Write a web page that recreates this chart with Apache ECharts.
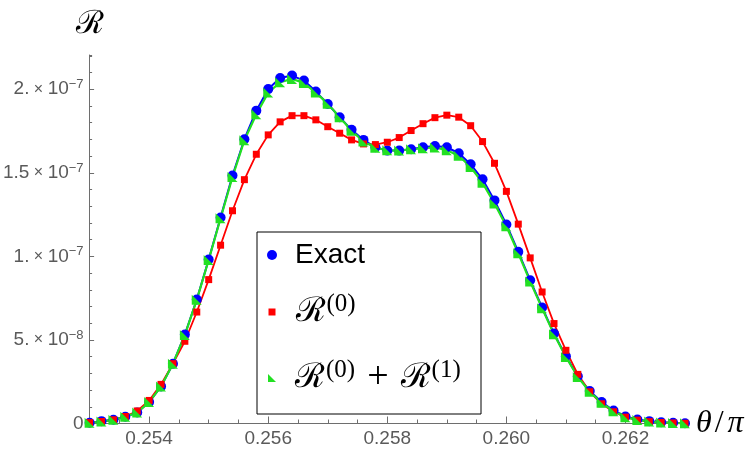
<!DOCTYPE html>
<html><head><meta charset="utf-8">
<script src="https://cdn.jsdelivr.net/npm/echarts@6/dist/echarts.min.js"></script>
<style>html,body{margin:0;padding:0;background:#fff}#c{width:756px;height:451px}</style>
</head><body><div id="c"></div>
<script>
// theta/pi sample positions
const thetaOverPi = [0.2530,0.2532,0.2534,0.2536,0.2538,0.2540,0.2542,0.2544,0.2546,0.2548,
  0.2550,0.2552,0.2554,0.2556,0.2558,0.2560,0.2562,0.2564,0.2566,0.2568,
  0.2570,0.2572,0.2574,0.2576,0.2578,0.2580,0.2582,0.2584,0.2586,0.2588,
  0.2590,0.2592,0.2594,0.2596,0.2598,0.2600,0.2602,0.2604,0.2606,0.2608,
  0.2610,0.2612,0.2614,0.2616,0.2618,0.2620,0.2622,0.2624,0.2626,0.2628,0.2630];
// values in units of 1e-8
const exactE8 = [0.05,0.14,0.22,0.40,0.66,1.28,2.22,3.58,5.32,7.42,
  9.81,12.33,14.84,17.01,18.72,20.01,20.67,20.82,20.52,19.86,
  19.12,18.33,17.57,16.97,16.53,16.33,16.33,16.41,16.53,16.61,
  16.53,16.17,15.51,14.61,13.35,11.91,10.27,8.57,6.94,5.38,
  4.02,2.82,1.94,1.28,0.78,0.42,0.24,0.14,0.08,0.04,0.02];
const r0E8 = [0.05,0.12,0.22,0.42,0.75,1.38,2.34,3.58,4.92,6.67,
  8.61,10.67,12.73,14.59,16.11,17.27,18.05,18.42,18.42,18.17,
  17.76,17.37,16.97,16.73,16.69,16.83,17.11,17.53,17.94,18.30,
  18.45,18.33,17.82,16.87,15.57,13.89,11.93,9.91,7.87,5.98,
  4.38,2.94,1.90,1.18,0.70,0.38,0.20,0.11,0.06,0.03,0.01];
const r01E8 = [0.04,0.12,0.22,0.40,0.66,1.28,2.22,3.58,5.30,7.40,
  9.78,12.28,14.75,16.95,18.50,19.80,20.42,20.62,20.37,19.80,
  19.14,18.33,17.52,16.88,16.50,16.35,16.33,16.41,16.47,16.52,
  16.35,16.02,15.35,14.40,13.17,11.80,10.19,8.49,6.89,5.34,
  3.98,2.78,1.90,1.24,0.74,0.38,0.21,0.12,0.06,0.03,0.01];
const xTickValues = [0.254,0.256,0.258,0.260,0.262];
const xTickLabels = ['0.254','0.256','0.258','0.260','0.262'];
const yTickValues = [0,5,10,15,20];
const yTickMantissa = ['0','5.','1.','1.5','2.'];
const yTickExponent = ['','\u22128','\u22127','\u22127','\u22127'];

const chart = echarts.init(document.getElementById('c'), null, {renderer:'canvas'});
const axisColor = '#6e6e6e';
const labelColor = '#5a5a5a';
const pair = arr => arr.map((v,i)=>[thetaOverPi[i], v]);
const triPath = 'path://M0,0L0,10L10,10Z';

const rr = {fontSize:34,fontFamily:'DejaVu Serif',color:'#000',lineHeight:40};
const ss = {fontSize:25,fontFamily:'Liberation Serif',color:'#000',verticalAlign:'top',lineHeight:26};

const option = {
  animation:false,
  backgroundColor:'#fff',
  grid:{left:88,right:71,top:55,bottom:27.5,containLabel:false},
  graphic:[{type:'rect',shape:{x:257,y:232,width:224,height:182},style:{fill:'#fff',stroke:'#000',lineWidth:1},z:3}],
  xAxis:[
    {type:'value',min:0.253,max:0.263,interval:0.0005,position:'bottom',
     axisLine:{lineStyle:{color:axisColor,width:1}},
     axisTick:{inside:true,length:4,lineStyle:{color:axisColor}},
     axisLabel:{show:false},splitLine:{show:false}},
    {type:'value',min:0.253,max:0.263,position:'bottom',
     axisLine:{show:false},
     axisTick:{inside:true,length:7,customValues:xTickValues,lineStyle:{color:axisColor}},
     axisLabel:{customValues:xTickValues,margin:6,color:labelColor,fontSize:19,fontFamily:'Liberation Sans',
       formatter:v=>{const k=xTickValues.findIndex(t=>Math.abs(t-v)<1e-9);return k>=0?xTickLabels[k]:'';}},
     splitLine:{show:false},
     name:'{i|\u03b8}{n|/}{i|\u03c0}',nameLocation:'end',nameGap:11,
     nameTextStyle:{rich:{i:{fontSize:32,fontFamily:'Liberation Serif',fontStyle:'italic',color:'#000'},
                          n:{fontSize:32,fontFamily:'Liberation Serif',color:'#000',padding:[0,4,0,3]}}}}
  ],
  yAxis:[
    {type:'value',min:0,max:22.05,interval:1,position:'left',
     axisLine:{lineStyle:{color:axisColor,width:1}},
     axisTick:{inside:true,length:2.5,lineStyle:{color:axisColor}},
     axisLabel:{show:false},splitLine:{show:false}},
    {type:'value',min:0,max:22.05,position:'left',
     axisLine:{show:false},
     axisTick:{inside:true,length:4.5,customValues:yTickValues,lineStyle:{color:axisColor}},
     axisLabel:{customValues:yTickValues,margin:6,color:labelColor,
       formatter:v=>{const k=yTickValues.findIndex(t=>Math.abs(t-v)<1e-9);if(k<0)return '';
         if(!yTickExponent[k])return '{m|'+yTickMantissa[k]+'}';
         return '{m|'+yTickMantissa[k]+'}{x| \u00d7 }{m|10}{s|'+yTickExponent[k]+'}';},
       rich:{m:{fontSize:19,fontFamily:'Liberation Sans',color:labelColor,lineHeight:22},
             x:{fontSize:16,fontFamily:'Liberation Sans',color:labelColor,lineHeight:22},
             s:{fontSize:13,fontFamily:'Liberation Sans',color:labelColor,verticalAlign:'top',lineHeight:13}}},
     splitLine:{show:false},
     name:'\u211b',nameLocation:'end',nameGap:14,
     nameTextStyle:{fontSize:32,fontFamily:'DejaVu Serif',color:'#000',align:'center'}}
  ],
  legend:[
    {data:[{name:'Exact',icon:'circle'}],left:267,top:241,padding:0,itemWidth:10,itemHeight:10,selectedMode:false,z:5,
     formatter:()=>'{t|Exact}',textStyle:{rich:{t:{fontSize:28,fontFamily:'Liberation Sans',color:'#000',lineHeight:34,padding:[0,0,0,13]}}}},
    {data:[{name:'R0',icon:'rect'}],left:268.5,top:292,padding:0,itemWidth:7,itemHeight:7,selectedMode:false,z:5,
     formatter:()=>'{r|\u211b}{s|(0)}',
     textStyle:{rich:{r:Object.assign({},rr,{padding:[0,1,0,15]}),s:ss}}},
    {data:[{name:'R01',icon:triPath}],left:268,top:358,padding:0,itemWidth:8,itemHeight:8,selectedMode:false,z:5,
     formatter:()=>'{r0|\u211b}{s|(0)}{p|+}{r|\u211b}{s|(1)}',
     textStyle:{rich:{r0:Object.assign({},rr,{padding:[0,1,0,14]}),r:Object.assign({},rr,{padding:[0,1,0,0]}),s:ss,
                      p:{fontSize:38,fontFamily:'Liberation Serif',color:'#000',lineHeight:40,padding:[0,12,0,12]}}}}
  ],
  series:[
    {name:'Exact',type:'line',xAxisIndex:0,yAxisIndex:0,data:pair(exactE8),symbol:'circle',symbolSize:10,
     showSymbol:true,showAllSymbol:true,itemStyle:{color:'#0000ff',borderWidth:0},lineStyle:{color:'#0000ff',width:2},z:2,silent:true},
    {name:'R0',type:'line',xAxisIndex:0,yAxisIndex:0,data:pair(r0E8),symbol:'rect',symbolSize:7,
     showSymbol:true,showAllSymbol:true,itemStyle:{color:'#ff0000',borderWidth:0},lineStyle:{color:'#ff0000',width:1.8},z:2,silent:true},
    {name:'R01',type:'line',xAxisIndex:0,yAxisIndex:0,data:pair(r01E8),symbol:triPath,symbolSize:10,
     showSymbol:true,showAllSymbol:true,itemStyle:{color:'#22e022',borderWidth:0},lineStyle:{color:'#22e022',width:2.2},z:2,silent:true}
  ]
};
chart.setOption(option);
</script></body></html>
